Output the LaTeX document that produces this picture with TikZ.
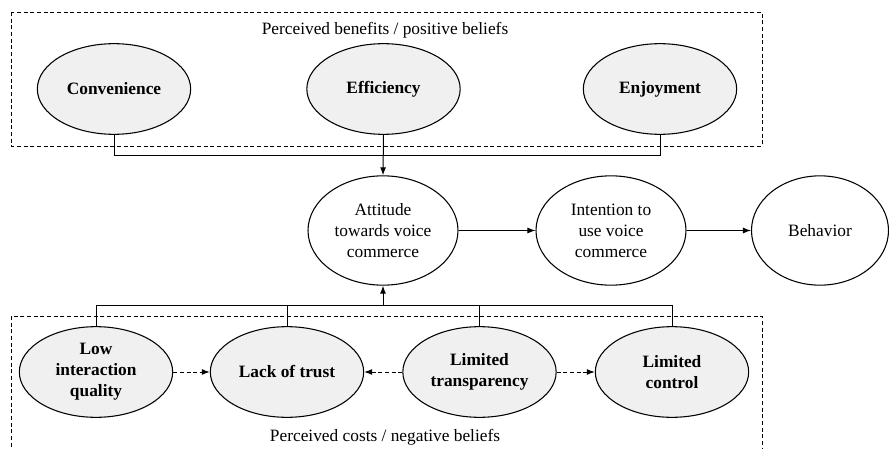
\documentclass[tikz,border=0pt]{standalone}
\usepackage{fontspec}
\setmainfont{Liberation Serif}
\usetikzlibrary{positioning,arrows.meta,shapes.geometric}
\definecolor{beliefgray}{HTML}{F0F0F0}

\tikzset{
  belief/.style={ellipse,draw,thick,fill=beliefgray,inner sep=0pt,align=center,
    font=\fontsize{13}{15.75}\selectfont\rmfamily\bfseries,minimum width=115pt,minimum height=68pt},
  construct/.style={ellipse,draw,thick,inner sep=0pt,align=center,
    font=\fontsize{13}{15.75}\selectfont\rmfamily,minimum width=112.5pt,minimum height=82pt},
  groupbox/.style={draw,line width=0.6pt,dash pattern=on 3pt off 2pt},
  grouplabel/.style={font=\fontsize{13}{15}\selectfont\rmfamily},
}

\begin{document}
\begin{tikzpicture}[x=0.75pt,y=-0.75pt,>={Latex[length=6pt,width=4.5pt]},line width=0.75pt]
\useasboundingbox (0,0) rectangle (889,449);

% positive beliefs
\draw[groupbox] (11,12) rectangle (762,146);
\node[grouplabel] (poslabel) at (385,30) {Perceived benefits / positive beliefs};
\node[belief] (conv) at (114,89) {Convenience};
\node[belief] (eff) at (383.5,89) {Efficiency};
\node[belief] (enj) at (660,89) {Enjoyment};

% attitude -> intention -> behavior
\node[construct] (att) at (383,230.5) {Attitude\\towards voice\\commerce};
\node[construct] (int) at (611,230.5) {Intention to\\use voice\\commerce};
\node[construct,minimum width=102.75pt] (beh) at (820,230.5) {Behavior};

% negative beliefs
\draw[groupbox] (11,460) |- (762,316) -- (762,460);
\node[grouplabel] (neglabel) at (385,437) {Perceived costs / negative beliefs};
\node[belief] (low) at (96,372) {Low\\interaction\\quality};
\node[belief] (trust) at (287,372) {Lack of trust};
\node[belief] (transp) at (479.5,372) {Limited\\transparency};
\node[belief] (ctrl) at (672,372) {Limited\\control};

% connectors
\draw (conv.south) -- ++(0,21) -| (enj.south);
\draw[->] (eff.south) -- (att.north);
\draw[->] (att.east) -- (int.west);
\draw[->] (int.east) -- (beh.west);

\coordinate (botbus) at (383,306);
\draw (low.north) -- ++(0,-21) -| (ctrl.north);
\draw (trust.north) -- ++(0,-21);
\draw (transp.north) -- ++(0,-21);
\draw[->] (botbus) -- (att.south);

\draw[->,dash pattern=on 3pt off 2pt] (low.east) -- (trust.west);
\draw[->,dash pattern=on 3pt off 2pt] (transp.west) -- (trust.east);
\draw[->,dash pattern=on 3pt off 2pt] (transp.east) -- (ctrl.west);
\end{tikzpicture}
\end{document}
